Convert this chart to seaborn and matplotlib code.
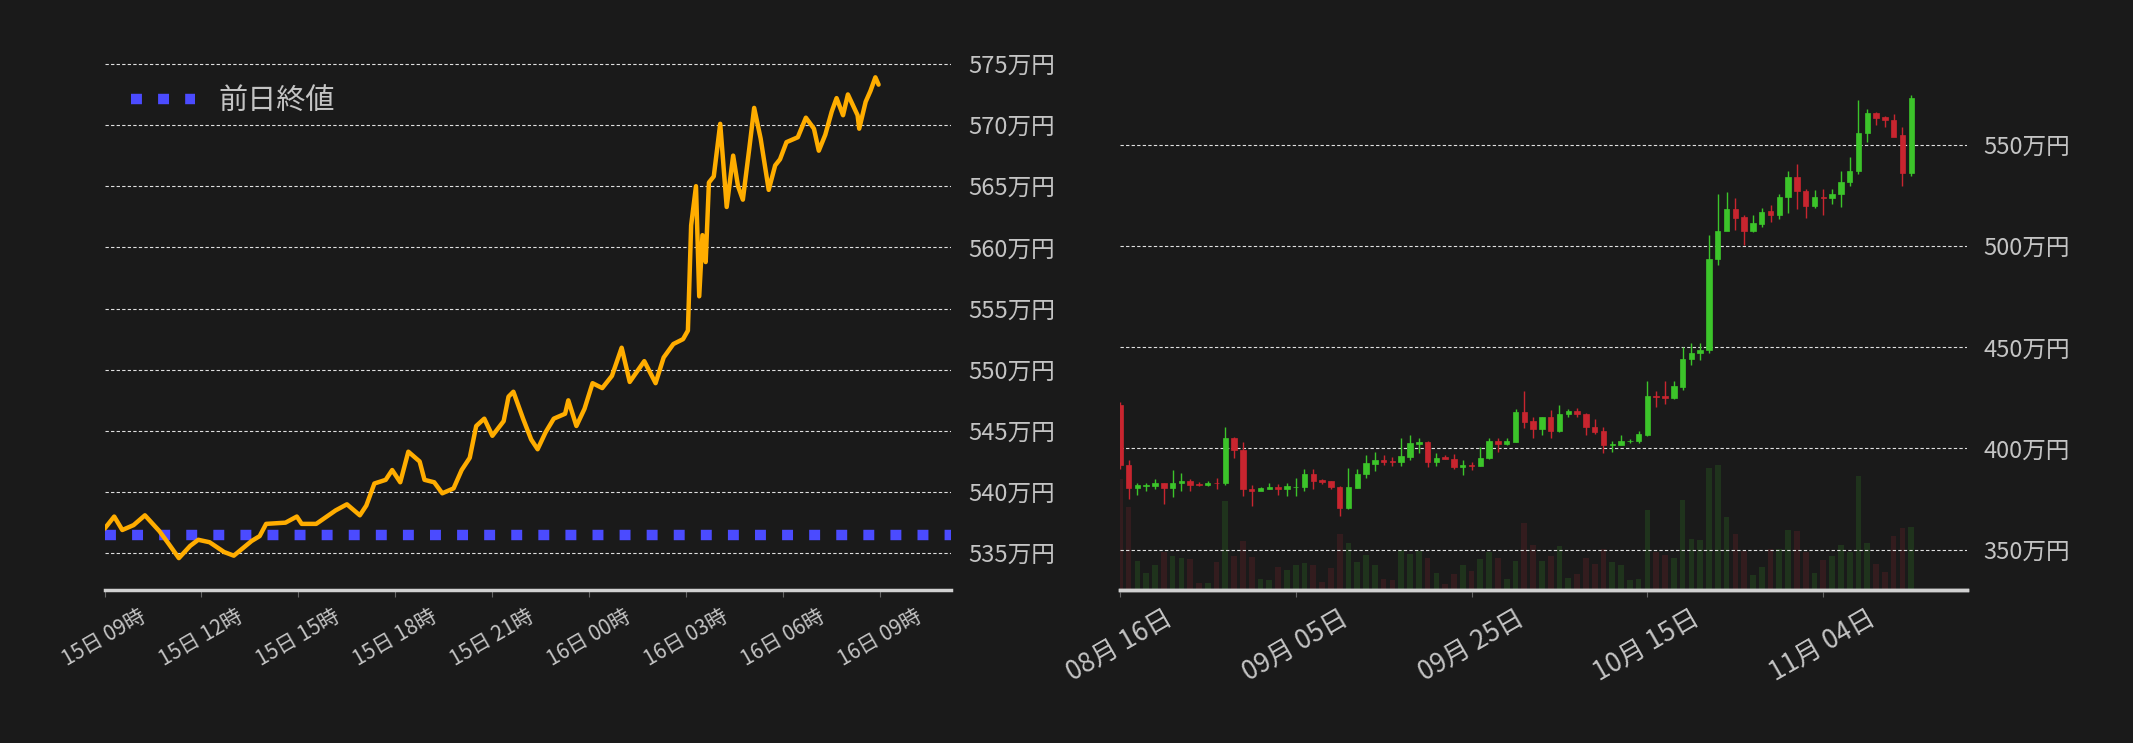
import numpy as np
import pandas as pd
import matplotlib
matplotlib.use("Agg")
import matplotlib.pyplot as plt
import matplotlib.dates as mdates
import seaborn as sns

# intraday price (hours after 15日 09時, 万円)
hours = [0, 0.3, 0.55, 0.9, 1.25, 1.7, 1.95, 2.3, 2.65, 2.9, 3.25, 3.7, 4.0, 4.55, 4.8, 5.0,
         5.6, 5.95, 6.1, 6.55, 7.15, 7.5, 7.9, 8.1, 8.35, 8.7, 8.9, 9.15, 9.4, 9.75, 9.9,
         10.2, 10.45, 10.8, 11.05, 11.3, 11.5, 11.75, 12.0, 12.35, 12.5, 12.65, 12.95, 13.2,
         13.4, 13.65, 13.9, 14.25, 14.35, 14.6, 14.85, 15.1, 15.4, 15.7, 16.0, 16.25, 16.7,
         17.05, 17.3, 17.6, 17.9, 18.05, 18.15, 18.3, 18.4, 18.5, 18.6, 18.7, 18.85, 19.05,
         19.25, 19.45, 19.6, 19.75, 19.95, 20.1, 20.3, 20.55, 20.75, 20.9, 21.1, 21.45, 21.7,
         21.95, 22.1, 22.3, 22.5, 22.65, 22.85, 23.0, 23.3, 23.35, 23.55, 23.7, 23.85, 23.95]
prices = [537.0, 538.0, 536.9, 537.3, 538.1, 536.8, 535.9, 534.6, 535.6, 536.1, 535.9, 535.1,
          534.8, 536.0, 536.4, 537.4, 537.5, 538.0, 537.4, 537.4, 538.5, 539.0, 538.1, 538.9,
          540.7, 541.0, 541.8, 540.8, 543.3, 542.5, 541.0, 540.8, 539.9, 540.3, 541.8, 542.8,
          545.4, 546.0, 544.6, 545.8, 547.8, 548.2, 546.0, 544.3, 543.5, 544.9, 546.0, 546.4,
          547.5, 545.4, 546.8, 548.9, 548.5, 549.5, 551.8, 549.0, 550.7, 548.9, 551.0, 552.1,
          552.5, 553.2, 561.8, 565.0, 556.0, 561.0, 558.8, 565.3, 565.8, 570.1, 563.3, 567.5,
          565.0, 563.9, 568.1, 571.4, 568.9, 564.7, 566.7, 567.2, 568.6, 569.0, 570.6, 569.7,
          567.9, 569.2, 571.1, 572.2, 570.8, 572.5, 570.8, 569.7, 571.9, 572.8, 573.9, 573.3]
prev_close = 536.5

# daily OHLC from 08月 16日 (万円) and volume (relative)
opens = [421.3, 392, 380.4, 381.4, 381.4, 383.1, 380.4, 383.1, 383.8, 382.4, 381.7, 383.1, 382.8,
         405, 399.4, 379.7, 378.7, 380, 380.9, 379.7, 380.9, 380.9, 387.2, 384.3, 383.8, 380.9,
         370.6, 380.4, 387.2, 392.4, 394.4, 394, 393.3, 395.7, 402.2, 403.2, 393.3, 395.7, 395,
         390.6, 392, 391.1, 395.1, 403.6, 402.2, 403.2, 417.9, 413.5, 409.7, 415.5, 408.7, 417.2,
         418.4, 417.2, 410.8, 408.7, 401.9, 401.9, 403.6, 403.6, 406.5, 426.1, 425.8, 424.9,
         430.4, 444, 447.4, 448.6, 493.5, 507.7, 518.6, 514.5, 507.7, 511, 517.4, 515.2, 524.2,
         534, 527.5, 520, 524.4, 523.7, 525.8, 531.6, 537, 555.8, 566, 563.7, 562.6, 554.8, 536.3]
closes = [392, 380.4, 381.7, 381.7, 383.1, 380.4, 383.1, 383.8, 381.7, 381.7, 383.1, 382.8, 405,
          399.1, 379.7, 378.7, 380.4, 380.9, 379.7, 381.4, 381.1, 387.2, 383.8, 383.5, 380.9,
          370.6, 380.7, 387.2, 392.7, 394.4, 393.3, 393.3, 396.2, 402.6, 403.2, 393.3, 395.4,
          394.7, 390.6, 392, 391.1, 395.1, 403.6, 402.2, 403.6, 417.9, 413.1, 409.7, 415.5, 408.7,
          417.2, 418.4, 417.2, 410.8, 408.2, 401.9, 402.2, 403.6, 403.9, 407, 426.1, 425.4, 424.9,
          430.9, 444, 447.4, 448.6, 493.5, 507.7, 518.3, 514, 507.7, 511.4, 516.9, 515.2, 524.2,
          534, 527.1, 520, 524.4, 523.7, 525.9, 531.9, 537.4, 556.1, 566, 563.3, 562.3, 554.1,
          536, 573.5]
highs = [422.9, 394.5, 383, 383, 384.8, 383.1, 389.3, 387.7, 384.8, 383.4, 384, 385.3, 410.4,
         405.7, 403.1, 381.7, 381, 383, 382.6, 382.8, 385.3, 389.9, 389.9, 384.8, 383.8, 381.4,
         390.3, 389.9, 396.8, 398.2, 396.8, 395.7, 405.3, 406.6, 405.3, 403.9, 397.5, 396.8,
         397.2, 394.4, 393.3, 400.5, 405.3, 405.3, 405.3, 419.3, 428.2, 415.5, 415.5, 418.9,
         421.3, 419.6, 420.1, 417.5, 414.5, 410.4, 403.6, 406.5, 404.8, 408.7, 433.3, 428.6,
         433.3, 433.3, 450, 452, 452, 505.5, 526, 526.8, 523.7, 515.2, 515.6, 518.8, 520.2,
         526, 537.4, 540.8, 528.5, 527.8, 528.3, 528.3, 537.4, 543.9, 572.5, 568.1, 566.6, 564.3,
         565.6, 559.2, 574.6]
lows = [390, 375, 377, 379.1, 380, 372.4, 376, 379, 379, 381.4, 381.4, 379.7, 381.7, 395.4, 376.3,
        371.5, 379.4, 379.7, 377.2, 376.6, 376.6, 378.7, 379.7, 382.4, 379.7, 366.7, 370.1, 380.2,
        385.2, 388.8, 392, 391.5, 391.5, 394.4, 397.5, 390.6, 391.5, 395, 390, 386.6, 389.3,
        391.1, 394.9, 398.2, 401.9, 403.2, 409.9, 405.1, 406.6, 405.3, 408.2, 415.7, 415.7,
        406.6, 407.3, 397.5, 398.2, 401.5, 402.6, 402.6, 406.1, 420.7, 422.2, 424.4, 428.9,
        441.4, 443.7, 447.4, 490.6, 509.8, 507.9, 500.5, 507.2, 509.4, 511.9, 513.4, 516.2,
        518.4, 514, 519, 515.4, 521.1, 519.4, 529.8, 535.6, 551.7, 559.7, 559.2, 557.6, 529.9,
        534.5]
volumes = [323, 240, 83, 48, 72, 110, 98, 93, 90, 20, 20, 80, 258, 98, 141, 96, 32, 28, 68, 58,
           73, 78, 73, 23, 63, 163, 136, 80, 101, 73, 32, 28, 116, 103, 113, 93, 48, 16, 46, 72,
           56, 90, 110, 93, 33, 83, 193, 130, 83, 98, 128, 36, 46, 93, 76, 118, 80, 73, 28, 32,
           232, 110, 102, 93, 260, 148, 144, 353, 362, 213, 163, 113, 43, 66, 118, 118, 173, 170,
           110, 48, 86, 98, 130, 110, 330, 136, 76, 52, 158, 180, 182]

bg = "#1a1a1a"
fg = "#c4c4c4"
sns.set_theme(style="dark", rc={"axes.facecolor": bg, "figure.facecolor": bg})
plt.rcParams["font.family"] = ["Noto Sans CJK JP", "DejaVu Sans"]

fig = plt.figure(figsize=(21.33, 7.43), dpi=100)
ax1 = fig.add_axes([0.049, 0.206, 0.397, 0.713])
ax2 = fig.add_axes([0.525, 0.206, 0.397, 0.713])

# ---- left: intraday line
t0 = pd.Timestamp("2020-11-15 09:00")
df = pd.DataFrame({"time": t0 + pd.to_timedelta(hours, unit="h"), "price": prices})
sns.lineplot(data=df, x="time", y="price", ax=ax1, color="#ffad00", linewidth=3.2, zorder=3)
ax1.axhline(prev_close, color="#4b4bff", linewidth=7.5, linestyle=(0, (1.05, 1.55)),
            dash_capstyle="butt", label="前日終値", zorder=2)
ax1.set_xlim(t0, t0 + pd.Timedelta(hours=26.2))
ax1.set_ylim(532, 575.3)
ax1.set_yticks(range(535, 576, 5))
ax1.set_yticklabels([f"{v}万円" for v in range(535, 576, 5)])
xt = [t0 + pd.Timedelta(hours=3 * i) for i in range(9)]
ax1.set_xticks(xt)
ax1.set_xticklabels([t.strftime("%d日 %H時") for t in xt], rotation=30, ha="center")
ax1.legend(loc="upper left", frameon=False, fontsize=21, labelcolor=fg,
           handlelength=2.2, bbox_to_anchor=(0.0, 1.0))

# ---- right: daily candles
d0 = pd.Timestamp("2020-08-16")
days = mdates.date2num(d0 + pd.to_timedelta(np.arange(len(opens)), unit="D"))
up = np.array(closes) >= np.array(opens)
cols = np.where(up, "#3cc42a", "#c8252f")
vcols = np.where(up, "#1f331c", "#331c1e")
vax = ax2.twinx()
vax.bar(days, volumes, width=0.65, color=vcols, linewidth=0, zorder=1)
vax.set_ylim(0, 1538)
vax.set_yticks([])
ax2.set_zorder(vax.get_zorder() + 1)
ax2.patch.set_visible(False)
ax2.vlines(days, lows, highs, colors=cols, linewidth=1.0, zorder=3)
ax2.bar(days, np.array(closes) - np.array(opens), bottom=opens, width=0.62,
        color=cols, edgecolor=cols, linewidth=0.5, zorder=4)
ax2.set_xlim(days[0], days[0] + 96.3)
ax2.set_ylim(330, 592)
ax2.set_yticks(range(350, 551, 50))
ax2.set_yticklabels([f"{v}万円" for v in range(350, 551, 50)])
dt = [d0 + pd.Timedelta(days=20 * i) for i in range(5)]
ax2.set_xticks(mdates.date2num(dt))
ax2.set_xticklabels([t.strftime("%m月 %d日") for t in dt], rotation=30, ha="center", fontsize=19)

for a in (ax1, ax2, vax):
    for s in ("top", "left", "right"):
        a.spines[s].set_visible(False)
    a.spines["bottom"].set_color("#d0d0d0")
    a.spines["bottom"].set_linewidth(2.5)
for a in (ax1, ax2):
    a.set_xlabel("")
    a.set_ylabel("")
    a.yaxis.tick_right()
    a.grid(axis="y", color="#e0e0e0", linestyle=(0, (3, 2)), linewidth=0.8)
    a.grid(axis="x", visible=False)
    a.tick_params(axis="y", colors=fg, labelsize=17, length=0, pad=12)
    a.tick_params(axis="x", colors="#666666", labelcolor=fg, length=5, width=0.8,
                  direction="out", bottom=True, pad=6)
ax1.tick_params(axis="x", labelsize=15)

fig.savefig("out.png", dpi=100, facecolor=bg)
